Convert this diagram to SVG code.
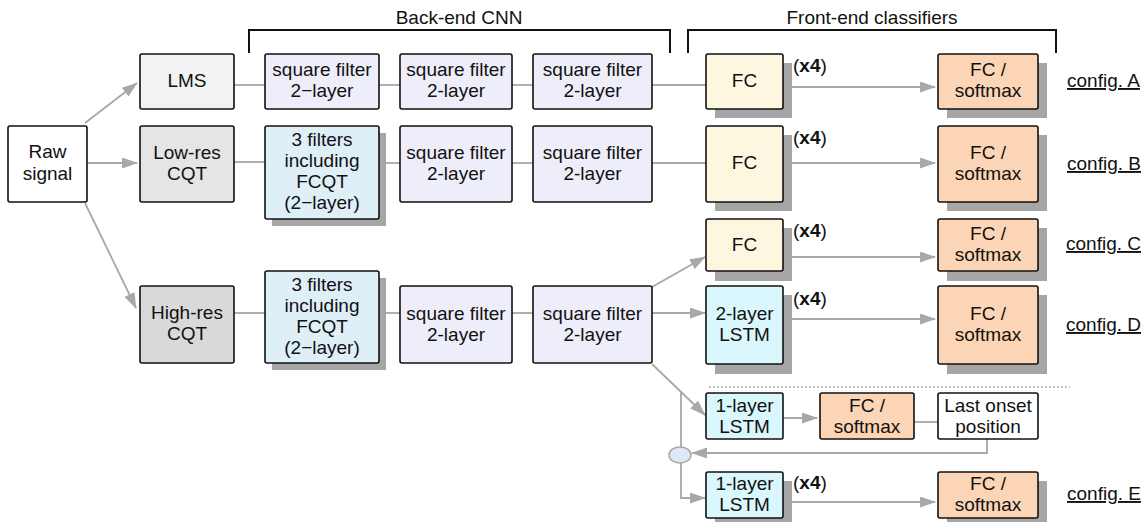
<svg xmlns="http://www.w3.org/2000/svg" width="1143" height="522" viewBox="0 0 1143 522">
<style>
text{font-family:"Liberation Sans",Arial,sans-serif;font-size:19px;fill:#111;text-anchor:middle}
.box{stroke:#111;stroke-width:1.6}
.sh{fill:#a6a6a6}
.white{fill:#ffffff}
.lms{fill:#f2f2f2}
.low{fill:#e5e5e5}
.high{fill:#d9d9d9}
.sq{fill:#eeeefa}
.cqt{fill:#dfeff8}
.fc{fill:#fdf7df}
.sm{fill:#fbd5b5}
.lstm{fill:#d9f7fc}
.con{fill:none;stroke:#a8a8a8;stroke-width:1.8}
.arr{marker-end:url(#ah)}
.brk{fill:none;stroke:#111;stroke-width:2}
.x4{text-anchor:start}
.cfg{text-anchor:start;text-decoration:underline}
</style>
<defs>
<marker id="ah" markerUnits="userSpaceOnUse" markerWidth="16" markerHeight="11" refX="15" refY="5.5" orient="auto">
<path d="M0,0 L16,5.5 L0,11 z" fill="#a8a8a8"/>
</marker>
</defs>

<g id="headers">
<path class="brk" d="M249,53 V30 H670 V53"/>
<path class="brk" d="M688,53 V30 H1056 V53"/>
<text x="459" y="24">Back-end CNN</text>
<text x="872" y="24">Front-end classifiers</text>
<path d="M709,387 H1070" fill="none" stroke="#aaaaaa" stroke-width="1.5" stroke-dasharray="2,2"/>
</g>

<g id="connectors">
<path class="con arr" d="M85,123 L137,83"/>
<path class="con arr" d="M87,163 L137,163"/>
<path class="con arr" d="M85,203 L136,308"/>
<path class="con" d="M234,85 H265"/>
<path class="con" d="M379,85 H400"/>
<path class="con" d="M512,85 H533"/>
<path class="con" d="M652,85 H706"/>
<path class="con arr" d="M783,87 H935"/>
<path class="con" d="M234,162 H265"/>
<path class="con" d="M379,163 H400"/>
<path class="con" d="M512,163 H533"/>
<path class="con" d="M652,163 H706"/>
<path class="con arr" d="M783,163 H935"/>
<path class="con" d="M234,313 H265"/>
<path class="con" d="M379,313 H400"/>
<path class="con" d="M512,313 H533"/>
<path class="con arr" d="M652,287 L705,257"/>
<path class="con arr" d="M652,313 H705"/>
<path class="con arr" d="M652,364 L705,415"/>
<path class="con arr" d="M783,257 H935"/>
<path class="con arr" d="M783,319 H935"/>
<path class="con arr" d="M783,418 H817"/>
<path class="con" d="M914,422 H938"/>
<path class="con arr" d="M987,439 V453 H692"/>
<path class="con" d="M681,392 V447"/>
<path class="con arr" d="M681,463 V498 H705"/>
<path class="con arr" d="M783,502 H935"/>
<ellipse cx="680" cy="455" rx="11" ry="8" fill="#dde9f5" stroke="#a8a8a8" stroke-width="1.5"/>
</g>

<g id="raw"><rect class="box white" x="8" y="126" width="79" height="76" rx="2"/><text x="47.5" y="158">Raw</text><text x="47.5" y="180">signal</text></g>
<g id="lms"><rect class="box lms" x="140" y="54" width="94" height="55" rx="2"/><text x="187" y="87">LMS</text></g>
<g id="lowres"><rect class="box low" x="140" y="126" width="94" height="76" rx="2"/><text x="187" y="158.5">Low-res</text><text x="187" y="179.5">CQT</text></g>
<g id="highres"><rect class="box high" x="140" y="286" width="94" height="77" rx="2"/><text x="187" y="319">High-res</text><text x="187" y="340">CQT</text></g>

<g id="sfA1"><rect class="box sq" x="265" y="54" width="114" height="55" rx="2"/><text x="322" y="76">square filter</text><text x="322" y="97">2−layer</text></g>
<g id="sfA2"><rect class="box sq" x="400" y="54" width="112" height="55" rx="2"/><text x="456" y="76">square filter</text><text x="456" y="97">2-layer</text></g>
<g id="sfA3"><rect class="box sq" x="533" y="54" width="119" height="55" rx="2"/><text x="592.5" y="76">square filter</text><text x="592.5" y="97">2-layer</text></g>

<g id="cqtB"><rect class="sh" x="272" y="133" width="114" height="93"/><rect class="box cqt" x="265" y="126" width="114" height="93" rx="2"/><text x="322" y="146">3 filters</text><text x="322" y="167">including</text><text x="322" y="188">FCQT</text><text x="322" y="209">(2−layer)</text></g>
<g id="sfB2"><rect class="box sq" x="400" y="126" width="112" height="76" rx="2"/><text x="456" y="158.5">square filter</text><text x="456" y="179.5">2-layer</text></g>
<g id="sfB3"><rect class="box sq" x="533" y="126" width="119" height="76" rx="2"/><text x="592.5" y="158.5">square filter</text><text x="592.5" y="179.5">2-layer</text></g>

<g id="cqtC"><rect class="sh" x="272" y="278" width="114" height="92"/><rect class="box cqt" x="265" y="271" width="114" height="92" rx="2"/><text x="322" y="290.5">3 filters</text><text x="322" y="311.5">including</text><text x="322" y="332.5">FCQT</text><text x="322" y="353.5">(2−layer)</text></g>
<g id="sfC2"><rect class="box sq" x="400" y="286" width="112" height="77" rx="2"/><text x="456" y="319.5">square filter</text><text x="456" y="340.5">2-layer</text></g>
<g id="sfC3"><rect class="box sq" x="533" y="286" width="119" height="77" rx="2"/><text x="592.5" y="319.5">square filter</text><text x="592.5" y="340.5">2-layer</text></g>

<g id="fcA"><rect class="sh" x="715" y="63" width="77" height="55"/><rect class="box fc" x="706" y="54" width="77" height="55" rx="2"/><text x="744.5" y="87">FC</text></g>
<g id="fcB"><rect class="sh" x="715" y="135" width="77" height="76"/><rect class="box fc" x="706" y="126" width="77" height="76" rx="2"/><text x="744.5" y="169">FC</text></g>
<g id="fcC"><rect class="sh" x="715" y="228" width="77" height="53"/><rect class="box fc" x="706" y="219" width="77" height="52" rx="2"/><text x="744.5" y="250.5">FC</text></g>
<g id="lstm2"><rect class="sh" x="715" y="295" width="77" height="79"/><rect class="box lstm" x="706" y="286" width="77" height="78" rx="2"/><text x="744.5" y="319.5">2-layer</text><text x="744.5" y="340.5">LSTM</text></g>
<g id="lstm1a"><rect class="box lstm" x="706" y="393" width="77" height="46" rx="2"/><text x="744.5" y="411.5">1-layer</text><text x="744.5" y="432.5">LSTM</text></g>
<g id="lstm1b"><rect class="sh" x="715" y="481" width="77" height="46"/><rect class="box lstm" x="706" y="472" width="77" height="46" rx="2"/><text x="744.5" y="489.5">1-layer</text><text x="744.5" y="510.5">LSTM</text></g>

<g id="x4labels">
<text class="x4" x="793" y="72">(<tspan font-weight="bold">x4</tspan>)</text>
<text class="x4" x="793" y="144">(<tspan font-weight="bold">x4</tspan>)</text>
<text class="x4" x="793" y="237">(<tspan font-weight="bold">x4</tspan>)</text>
<text class="x4" x="793" y="305">(<tspan font-weight="bold">x4</tspan>)</text>
<text class="x4" x="793" y="489">(<tspan font-weight="bold">x4</tspan>)</text>
</g>

<g id="smA"><rect class="sh" x="947" y="63" width="100" height="55"/><rect class="box sm" x="938" y="54" width="100" height="55" rx="2"/><text x="988" y="76">FC /</text><text x="988" y="97">softmax</text></g>
<g id="smB"><rect class="sh" x="947" y="135" width="100" height="76"/><rect class="box sm" x="938" y="126" width="100" height="76" rx="2"/><text x="988" y="158.5">FC /</text><text x="988" y="179.5">softmax</text></g>
<g id="smC"><rect class="sh" x="947" y="228" width="100" height="53"/><rect class="box sm" x="938" y="219" width="100" height="52" rx="2"/><text x="988" y="240">FC /</text><text x="988" y="261">softmax</text></g>
<g id="smD"><rect class="sh" x="947" y="295" width="100" height="79"/><rect class="box sm" x="938" y="286" width="100" height="78" rx="2"/><text x="988" y="319.5">FC /</text><text x="988" y="340.5">softmax</text></g>
<g id="smMid"><rect class="box sm" x="820" y="393" width="94" height="46" rx="2"/><text x="867" y="411.5">FC /</text><text x="867" y="432.5">softmax</text></g>
<g id="onset"><rect class="box white" x="938" y="393" width="100" height="46" rx="2"/><text x="988" y="411.5">Last onset</text><text x="988" y="432.5">position</text></g>
<g id="smE"><rect class="sh" x="947" y="481" width="100" height="46"/><rect class="box sm" x="938" y="472" width="100" height="46" rx="2"/><text x="988" y="489.5">FC /</text><text x="988" y="510.5">softmax</text></g>

<g id="configs">
<text class="cfg" x="1067" y="87">config. A</text>
<text class="cfg" x="1067" y="170">config. B</text>
<text class="cfg" x="1066" y="250">config. C</text>
<text class="cfg" x="1066" y="331">config. D</text>
<text class="cfg" x="1067" y="500">config. E</text>
</g>
</svg>
